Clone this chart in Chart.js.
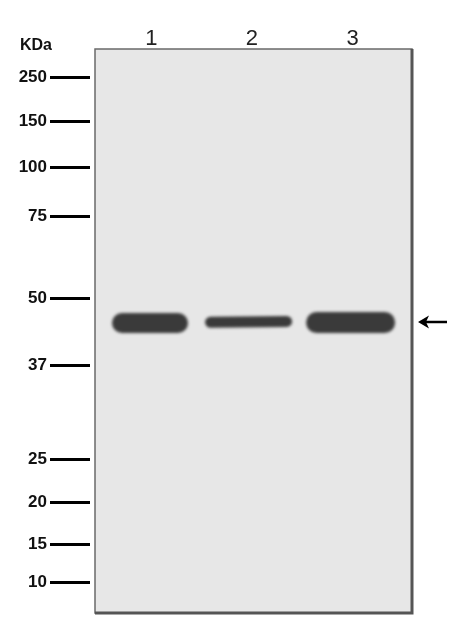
<!DOCTYPE html>
<html>
<head>
<meta charset="utf-8">
<script src="https://cdn.jsdelivr.net/npm/chart.js@4.4.1/dist/chart.umd.min.js"></script>
<style>
  html, body { margin: 0; padding: 0; background: #fff; }
  canvas { display: block; }
</style>
</head>
<body>
<canvas id="blot" width="450" height="627"></canvas>
<script>
// lanes and marker ladder (migration distance from top of membrane)
const laneLabels = ['1', '2', '3'];
const lanePos = [1, 2, 3];
const markerKDa = ['250', '150', '100', '75', '50', '37', '25', '20', '15', '10'];
const markerDist = [28, 72, 118, 167, 249, 316, 410, 453, 495, 533];

// bands: start/end lane units and migration distance at each end
const bandStart = [0.708, 1.588, 2.642];
const bandEnd = [1.265, 2.344, 3.318];
const bandDistStart = [274, 273.3, 273.5];
const bandDistEnd = [274, 272.5, 273.5];
const bandThickness = [20, 11, 21];
const arrowDist = 273;

const bandSets = bandStart.map((s, i) => ({
    data: [{ x: s, y: bandDistStart[i] }, { x: bandEnd[i], y: bandDistEnd[i] }],
    showLine: true,
    borderColor: '#3a3a3a',
    borderWidth: bandThickness[i],
    borderCapStyle: 'round',
    pointRadius: 0,
    pointHoverRadius: 0,
    tension: 0
}));

const blotPlugin = {
    id: 'blot',
    beforeDraw(chart) {
        const { ctx, chartArea: a } = chart;
        ctx.save();
        ctx.fillStyle = '#e7e7e7';
        ctx.fillRect(a.left, a.top, a.right - a.left, a.bottom - a.top);
        ctx.restore();
    },
    beforeDatasetsDraw(chart) {
        chart.ctx.save();
        chart.ctx.filter = 'blur(1.4px)';
    },
    afterDatasetsDraw(chart) {
        chart.ctx.restore();
    },
    afterDraw(chart) {
        const { ctx, chartArea: a, scales } = chart;
        const y = scales.y;
        ctx.save();
        // membrane frame
        ctx.strokeStyle = '#6a6a6a';
        ctx.lineWidth = 1.5;
        ctx.strokeRect(a.left, a.top, a.right - a.left, a.bottom - a.top);
        ctx.strokeStyle = '#555';
        ctx.lineWidth = 3;
        ctx.beginPath();
        ctx.moveTo(a.right, a.top);
        ctx.lineTo(a.right, a.bottom);
        ctx.lineTo(a.left, a.bottom);
        ctx.stroke();
        // marker dashes
        ctx.strokeStyle = '#000';
        ctx.lineWidth = 3;
        markerDist.forEach(d => {
            const py = Math.round(y.getPixelForValue(d)) + 0.5;
            ctx.beginPath();
            ctx.moveTo(a.left - 45, py);
            ctx.lineTo(a.left - 5, py);
            ctx.stroke();
        });
        // KDa
        ctx.fillStyle = '#111';
        ctx.font = 'bold 16px "Liberation Sans", Arial, sans-serif';
        ctx.textAlign = 'left';
        ctx.textBaseline = 'middle';
        ctx.fillText('KDa', 20, a.top - 3);
        // arrow
        const ay = y.getPixelForValue(arrowDist);
        const ax = a.right + 6;
        ctx.strokeStyle = '#000';
        ctx.lineWidth = 2.5;
        ctx.beginPath();
        ctx.moveTo(ax + 4, ay);
        ctx.lineTo(ax + 29, ay);
        ctx.stroke();
        ctx.fillStyle = '#000';
        ctx.beginPath();
        ctx.moveTo(ax, ay);
        ctx.lineTo(ax + 11, ay - 6.5);
        ctx.lineTo(ax + 8, ay);
        ctx.lineTo(ax + 11, ay + 6.5);
        ctx.closePath();
        ctx.fill();
        ctx.restore();
    }
};

new Chart(document.getElementById('blot'), {
    type: 'scatter',
    data: { datasets: bandSets },
    options: {
        responsive: false,
        animation: false,
        events: [],
        layout: { padding: { top: 0, right: 38, bottom: 14, left: 0 } },
        plugins: { legend: { display: false }, tooltip: { enabled: false } },
        scales: {
            x: {
                type: 'linear',
                position: 'top',
                min: 0.44,
                max: 3.59,
                afterBuildTicks: s => { s.ticks = lanePos.map(v => ({ value: v })); },
                afterFit: s => { s.height = 49; },
                border: { display: false },
                grid: { display: false, drawTicks: false },
                ticks: {
                    padding: -3,
                    color: '#222',
                    font: { family: '"Liberation Sans", Arial, sans-serif', size: 22 },
                    callback: (v, i) => laneLabels[i]
                }
            },
            y: {
                type: 'linear',
                reverse: true,
                min: 0,
                max: 564,
                afterBuildTicks: s => { s.ticks = markerDist.map(v => ({ value: v })); },
                afterFit: s => { s.width = 95; },
                border: { display: false },
                grid: { drawOnChartArea: false, drawTicks: true, tickLength: 45, tickColor: 'rgba(0,0,0,0)' },
                ticks: {
                    autoSkip: false,
                    padding: 3,
                    color: '#111',
                    font: { family: '"Liberation Sans", Arial, sans-serif', size: 17, weight: 'bold' },
                    callback: (v, i) => markerKDa[i]
                }
            }
        }
    },
    plugins: [blotPlugin]
});
</script>
</body>
</html>
